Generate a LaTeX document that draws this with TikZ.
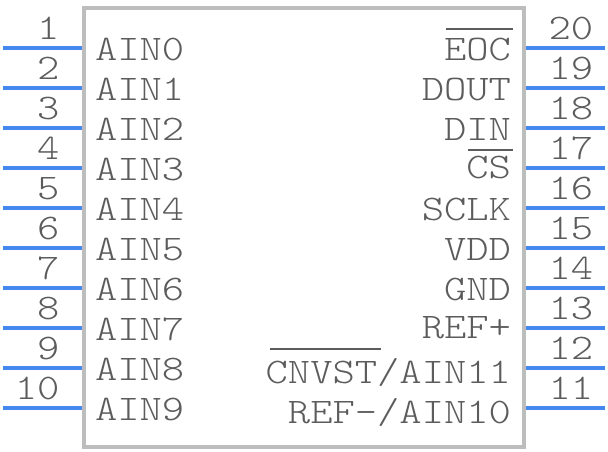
\documentclass[tikz,border=0pt]{standalone}
\usepackage{fontspec}
\setmonofont[FakeStretch=1.18]{Latin Modern Mono Light}
\definecolor{pinblue}{RGB}{70,136,241}
\definecolor{bodygray}{RGB}{189,189,189}
\definecolor{textgray}{RGB}{92,92,92}
\tikzset{every picture/.style={line width=0.75pt}}
\tikzset{
	pinline/.style={draw=pinblue,line width=3pt},
	bodyline/.style={draw=bodygray,line width=3pt},
	barline/.style={draw=textgray,line width=1.5pt},
	pintext/.style={inner sep=0pt,text=textgray,font=\ttfamily\fontsize{27}{27}\selectfont},
}
\begin{document}
\begin{tikzpicture}[x=0.75pt,y=0.75pt,yscale=-1,xscale=1]
	\useasboundingbox (0,0) rectangle (608,452);
	
	%Body
	\coordinate (bodynw) at (84,8);
	\coordinate (bodyse) at (524,447.5);
	\draw [bodyline] (bodynw) rectangle (bodyse);
	
	%Left pins
	\foreach \n/\lab [evaluate=\n as \py using 48+40*(\n-1)] in {1/AIN0,2/AIN1,3/AIN2,4/AIN3,5/AIN4,6/AIN5,7/AIN6,8/AIN7,9/AIN8,10/AIN9} {
		\coordinate (pl\n) at (3,\py);
		\coordinate (bl\n) at (82,\py);
		\draw [pinline] (pl\n) -- (bl\n);
		\node (numl\n) [pintext,anchor=base east] at (60,\py-8) {\n};
		\node (labl\n) [pintext,anchor=base west] at (94.5,\py+13) {\lab};
	}
	
	%Right pins
	\foreach \n/\lab/\by [evaluate=\n as \py using 48+40*(20-\n)] in {20/EOC/61,19/DOUT/101,18/DIN/140.5,17/CS/179,16/SCLK/221,15/VDD/261,14/GND/301,13/REF+/339,12/{CNVST/AIN11}/383.5,11/{REF-/AIN10}/424} {
		\coordinate (pr\n) at (605,\py);
		\coordinate (br\n) at (526,\py);
		\draw [pinline] (br\n) -- (pr\n);
		\node (numr\n) [pintext,anchor=base west] at (548,\py-8) {\n};
		\node (labr\n) [pintext,anchor=base east] at (511.5,\by) {\lab};
	}
	
	%Overbars
	\coordinate (eocw) at (446,29.5);
	\coordinate (eoce) at (513,29.5);
	\coordinate (csw) at (468,150);
	\coordinate (cse) at (513,150);
	\coordinate (cnvw) at (270,349.5);
	\coordinate (cnve) at (381,349.5);
	\draw [barline] (eocw) -- (eoce);
	\draw [barline] (csw) -- (cse);
	\draw [barline] (cnvw) -- (cnve);
\end{tikzpicture}
\end{document}
